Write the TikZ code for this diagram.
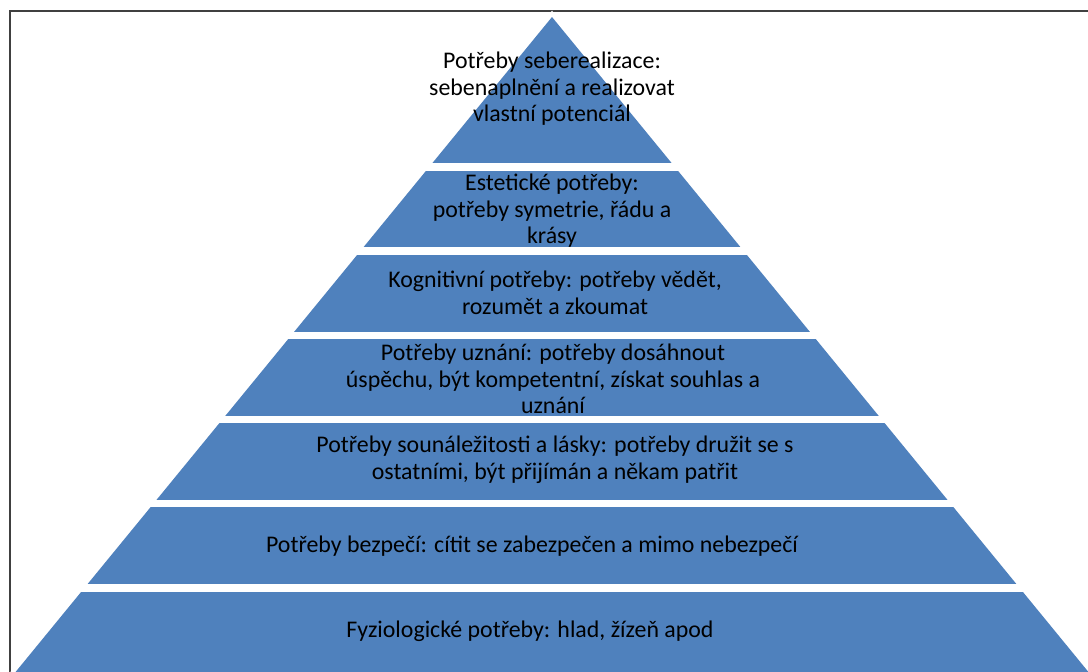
\documentclass[tikz,border=0pt]{standalone}
\usepackage{fontspec}
\setmainfont{Carlito}
\definecolor{levelblue}{HTML}{4F81BD}
\definecolor{framegray}{HTML}{404040}
\begin{document}
\begin{tikzpicture}[x=0.75pt,y=-0.75pt,
 need/.style={align=center,text=black,font=\fontsize{17.9}{19.9}\selectfont,inner sep=0pt},
 gap/.style={fill=white},
 halo/.style={draw=white,line width=6pt,line join=miter}]
 \useasboundingbox (0,0) rectangle (1088,671);
 \clip (0,0) rectangle (1088,671);
 \draw[framegray,line width=1.2pt] (10,11) rectangle (1120,700);
 \coordinate (apex) at (552,17);
 \coordinate (base l) at (9,680);
 \coordinate (base r) at (1095,680);
 \draw[halo] (apex) -- (base r) -- (base l) -- cycle;
 \fill[levelblue] (apex) -- (base r) -- (base l) -- cycle;
 \fill[gap] (30,163) rectangle (1088,171);
 \fill[gap] (30,247) rectangle (1088,255);
 \fill[gap] (30,332) rectangle (1088,339);
 \fill[gap] (30,416) rectangle (1088,423);
 \fill[gap] (30,500) rectangle (1088,507);
 \fill[gap] (30,584) rectangle (1088,592);
 \node (need 1) at (552,89) [need] {Potřeby seberealizace:\\sebenaplnění a realizovat\\vlastní potenciál};
 \node (need 2) at (552,211) [need] {Estetické potřeby:\\potřeby symetrie, řádu a\\krásy};
 \node (need 3) at (555,293) [need] {Kognitivní potřeby: potřeby vědět,\\rozumět a zkoumat};
 \node (need 4) at (553,379) [need] {Potřeby uznání: potřeby dosáhnout\\úspěchu, být kompetentní, získat souhlas a\\uznání};
 \node (need 5) at (555,460) [need] {Potřeby sounáležitosti a lásky: potřeby družit se s\\ostatními, být přijímán a někam patřit};
 \node (need 6) at (532,546) [need] {Potřeby bezpečí: cítit se zabezpečen a mimo nebezpečí};
 \node (need 7) at (530,631) [need] {Fyziologické potřeby: hlad, žízeň apod};
\end{tikzpicture}
\end{document}
